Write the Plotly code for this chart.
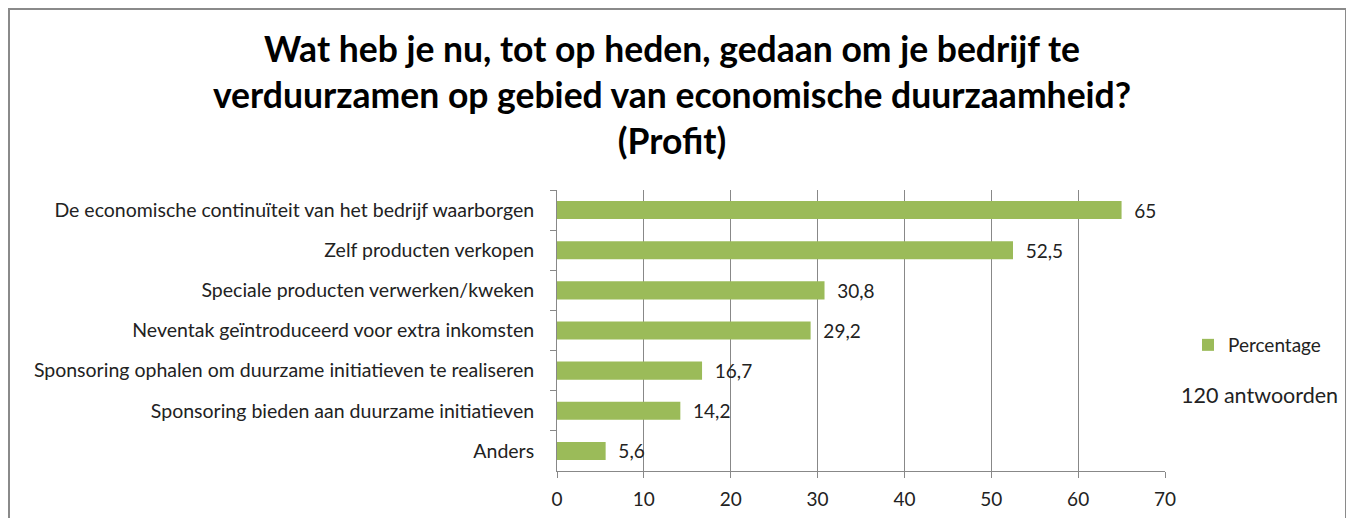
import plotly.graph_objects as go

categories = [
    "De economische continuïteit van het bedrijf waarborgen",
    "Zelf producten verkopen",
    "Speciale producten verwerken/kweken",
    "Neventak geïntroduceerd voor extra inkomsten",
    "Sponsoring ophalen om duurzame initiatieven te realiseren",
    "Sponsoring bieden aan duurzame initiatieven",
    "Anders",
]
values = [65, 52.5, 30.8, 29.2, 16.7, 14.2, 5.6]
value_labels = ["65", "52,5", "30,8", "29,2", "16,7", "14,2", "5,6"]
x_ticks = [0, 10, 20, 30, 40, 50, 60, 70]

FONT = "Lato, 'Open Sans', sans-serif"
GREEN = "#9BBB59"
OFF = 8  # page body margin

W, H = 1354, 518
L = 557 - OFF
Rpx = 1165 - OFF
T = 190 - OFF
Bpx = 471 - OFF
pw, ph = Rpx - L, Bpx - T


def px_x(p):
    return (p - OFF - L) / pw


def px_y(p):
    return (Bpx - (p - OFF)) / ph


fig = go.Figure()
fig.add_trace(go.Bar(
    y=categories, x=values, orientation="h",
    name="Percentage",
    marker=dict(color=GREEN, line=dict(width=0)),
    width=0.45,
    text=value_labels, texttemplate="\u00a0\u00a0%{text}",
    textposition="outside", constraintext="none",
    textfont=dict(size=19, color="#222", family=FONT),
    cliponaxis=False,
))

fig.update_layout(
    width=W, height=H,
    margin=dict(l=L, r=W - Rpx, t=T, b=H - Bpx, pad=0, autoexpand=False),
    paper_bgcolor="white", plot_bgcolor="white",
    font=dict(family=FONT, size=19, color="#222"),
    title=dict(
        text="Wat heb je nu, tot op heden, gedaan om je bedrijf te<br>verduurzamen op gebied van economische duurzaamheid?<br>(Profit)",
        x=(672 - OFF) / W, xanchor="center", y=1 - 54 / H, yanchor="middle",
        font=dict(size=35.5, family=FONT, color="#000", weight="bold"),
    ),
    showlegend=True,
    legend=dict(
        x=px_x(1188), y=px_y(345), xref="paper", yref="paper",
        xanchor="left", yanchor="middle",
        font=dict(size=19, family=FONT, color="#222"),
        bgcolor="rgba(0,0,0,0)", itemwidth=30,
    ),
    xaxis=dict(
        range=[0, 70], tickvals=x_ticks, ticktext=[str(v) for v in x_ticks],
        showgrid=True, gridcolor="#888888", gridwidth=1,
        showline=True, linecolor="#888888", linewidth=1, mirror=False,
        ticks="outside", ticklen=6, tickcolor="#888888",
        ticklabelstandoff=5,
        tickfont=dict(size=19, family=FONT, color="#222"),
        zeroline=False, fixedrange=True,
    ),
    yaxis=dict(
        autorange="reversed", type="category",
        showline=True, linecolor="#888888", linewidth=1,
        ticks="outside", ticklen=6, tickcolor="#888888", tickson="boundaries",
        ticklabelstandoff=18,
        tickfont=dict(size=19.5, family=FONT, color="#222"),
        showgrid=False, fixedrange=True,
    ),
)

fig.add_annotation(
    text="120 antwoorden", xref="paper", yref="paper",
    x=px_x(1259), y=px_y(395), xanchor="center", yanchor="middle",
    showarrow=False, font=dict(size=21.5, family=FONT, color="#222"),
)

fig.add_shape(
    type="rect", xref="paper", yref="paper",
    x0=px_x(9), x1=px_x(1346), y0=px_y(540), y1=px_y(9),
    line=dict(color="#8a8a8a", width=2), fillcolor="rgba(0,0,0,0)", layer="below",
)

fig.write_html("out.html")
